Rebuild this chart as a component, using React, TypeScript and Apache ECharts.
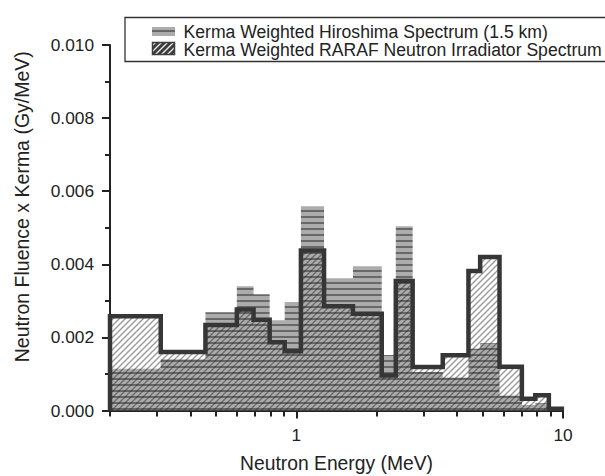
import React, { useEffect, useRef } from "react";
import * as echarts from "echarts";

// Bin edges (MeV) of the step histograms
const binEdges = [0.2, 0.31, 0.456, 0.598, 0.691, 0.794, 0.904, 1.04, 1.27, 1.63, 2.09, 2.36, 2.73, 3.54, 4.42, 4.89, 5.78, 7.01, 7.87, 8.85, 9.9];
// Kerma weighted RARAF neutron irradiator spectrum (Gy/MeV)
const rarafValues = [0.00258, 0.0016, 0.00234, 0.00276, 0.00248, 0.00187, 0.00162, 0.00438, 0.00285, 0.00265, 0.00096, 0.00354, 0.00119, 0.00151, 0.00382, 0.0042, 0.0012, 0.00032, 0.00042, 0.00005];
// Kerma weighted Hiroshima spectrum at 1.5 km (Gy/MeV)
const hiroshimaValues = [0.00114, 0.0014, 0.00269, 0.0034, 0.00318, 0.00247, 0.00297, 0.00559, 0.00362, 0.00395, 0.00152, 0.00504, 0.00105, 0.0009, 0.00169, 0.00184, 0.00041, 0.00015, 0.0002, 0.00003];

const xMajorTicks = [1, 10];
const xMinorTicks = [0.2, 0.3, 0.4, 0.5, 0.6, 0.7, 0.8, 0.9, 2, 3, 4, 5, 6, 7, 8, 9];

const seriesNames = [
  "Kerma Weighted Hiroshima Spectrum (1.5 km)",
  "Kerma Weighted RARAF Neutron Irradiator Spectrum",
];
const xTitle = "Neutron Energy (MeV)";
const yTitle = "Neutron Fluence x Kerma (Gy/MeV)";

const FONT = "'Liberation Sans', Arial, Helvetica, sans-serif";
const INK = "#222";

function stepData(edges: number[], vals: number[]) {
  const out: number[][] = [[edges[0], 0]];
  vals.forEach((v, i) => out.push([edges[i], v]));
  out.push([edges[edges.length - 1], vals[vals.length - 1]]);
  out.push([edges[edges.length - 1], 0]);
  return out;
}

function hPattern() {
  const c = document.createElement("canvas");
  c.width = 6;
  c.height = 6;
  const g = c.getContext("2d")!;
  g.fillStyle = "#acacac";
  g.fillRect(0, 0, 6, 6);
  g.fillStyle = "#686868";
  g.fillRect(0, 0, 6, 2);
  return { image: c, repeat: "repeat", imageWidth: 6, imageHeight: 6 };
}

function dPattern(bg: string | null, fg: string, w: number) {
  const s = 6;
  const c = document.createElement("canvas");
  c.width = s;
  c.height = s;
  const g = c.getContext("2d")!;
  if (bg) {
    g.fillStyle = bg;
    g.fillRect(0, 0, s, s);
  }
  g.strokeStyle = fg;
  g.lineWidth = w;
  g.beginPath();
  g.moveTo(-1, s + 1);
  g.lineTo(s + 1, -1);
  g.moveTo(-1, 1);
  g.lineTo(1, -1);
  g.moveTo(s - 1, s + 1);
  g.lineTo(s + 1, s - 1);
  g.stroke();
  return { image: c, repeat: "repeat", imageWidth: s, imageHeight: s };
}

export default function App() {
  const ref = useRef<HTMLDivElement>(null);
  useEffect(() => {
    if (!ref.current) return;
    const chart = echarts.init(ref.current, undefined, { renderer: "svg" });
    const hp = hPattern();
    const dp = dPattern(null, "rgba(30,30,30,0.45)", 1.4);
    const legendD = dPattern("#3c3c3c", "#e8e8e8", 1.4);

    const xBase = {
      type: "log",
      logBase: 10,
      min: 0.2,
      max: 10,
      position: "bottom",
      splitLine: { show: false },
      minorTick: { show: false },
      minorSplitLine: { show: false },
    };

    chart.setOption({
      animation: false,
      backgroundColor: "#fff",
      grid: { left: 110, right: 42, top: 45, bottom: 65.5, containLabel: false, outerBoundsMode: "none" },
      xAxis: [
        {
          ...xBase,
          name: xTitle,
          nameLocation: "middle",
          nameGap: 43,
          nameTextStyle: { fontFamily: FONT, fontSize: 19.3, color: INK },
          axisLine: { show: true, lineStyle: { color: INK, width: 2 } },
          axisTick: { show: true, customValues: xMajorTicks, length: 8, lineStyle: { color: INK, width: 2 } },
          axisLabel: {
            customValues: xMajorTicks,
            fontFamily: FONT,
            fontSize: 17.3,
            color: INK,
            margin: 16,
          },
        },
        {
          ...xBase,
          axisLine: { show: false },
          axisTick: { show: true, customValues: xMinorTicks, length: 6, lineStyle: { color: INK, width: 2 } },
          axisLabel: { show: false },
        },
      ],
      yAxis: {
        type: "value",
        min: 0,
        max: 0.01,
        interval: 0.002,
        axisLine: { show: true, lineStyle: { color: INK, width: 2 } },
        axisTick: { show: true, length: 8, lineStyle: { color: INK, width: 2 } },
        minorTick: { show: true, splitNumber: 2, length: 5, lineStyle: { color: INK, width: 2 } },
        splitLine: { show: false },
        axisLabel: {
          fontFamily: FONT,
          fontSize: 17.3,
          color: INK,
          margin: 16,
          formatter: (v: number) => v.toFixed(3),
        },
      },
      series: [
        {
          name: seriesNames[0],
          type: "line",
          xAxisIndex: 0,
          step: "end",
          symbol: "none",
          showSymbol: false,
          lineStyle: { width: 0, opacity: 0 },
          areaStyle: { color: hp, opacity: 1 },
          data: stepData(binEdges, hiroshimaValues),
          z: 2,
        },
        {
          name: seriesNames[1],
          type: "line",
          xAxisIndex: 0,
          step: "end",
          symbol: "none",
          showSymbol: false,
          lineStyle: { width: 4.5, color: "#363636", join: "miter" },
          areaStyle: { color: dp, opacity: 1 },
          data: stepData(binEdges, rarafValues),
          z: 3,
        },
      ],
      graphic: [
        {
          type: "text",
          z: 50,
          x: 21.7,
          y: 206.7,
          rotation: Math.PI / 2,
          style: {
            text: yTitle,
            fontFamily: FONT,
            fontSize: 19.5,
            fill: INK,
            align: "center",
            verticalAlign: "middle",
          },
        },
        {
          type: "rect",
          z: 100,
          shape: { x: 125, y: 17.5, width: 520, height: 44 },
          style: { fill: "#fff", stroke: "#333", lineWidth: 1.3 },
        },
        {
          type: "rect",
          z: 101,
          shape: { x: 152, y: 27, width: 23, height: 9 },
          style: { fill: hp },
        },
        {
          type: "rect",
          z: 101,
          shape: { x: 152.5, y: 42.5, width: 22, height: 12 },
          style: { fill: legendD, stroke: "#3c3c3c", lineWidth: 1.5 },
        },
        {
          type: "text",
          z: 101,
          x: 183.5,
          y: 32,
          style: {
            text: seriesNames[0],
            fontFamily: FONT,
            fontSize: 17.6,
            fill: INK,
            verticalAlign: "middle",
          },
        },
        {
          type: "text",
          z: 101,
          x: 183.5,
          y: 50,
          style: {
            text: seriesNames[1],
            fontFamily: FONT,
            fontSize: 17.6,
            fill: INK,
            verticalAlign: "middle",
          },
        },
      ],
    });
    return () => chart.dispose();
  }, []);
  return <div ref={ref} style={{ width: 605, height: 476, position: "absolute", left: 0, top: 0 }} />;
}
